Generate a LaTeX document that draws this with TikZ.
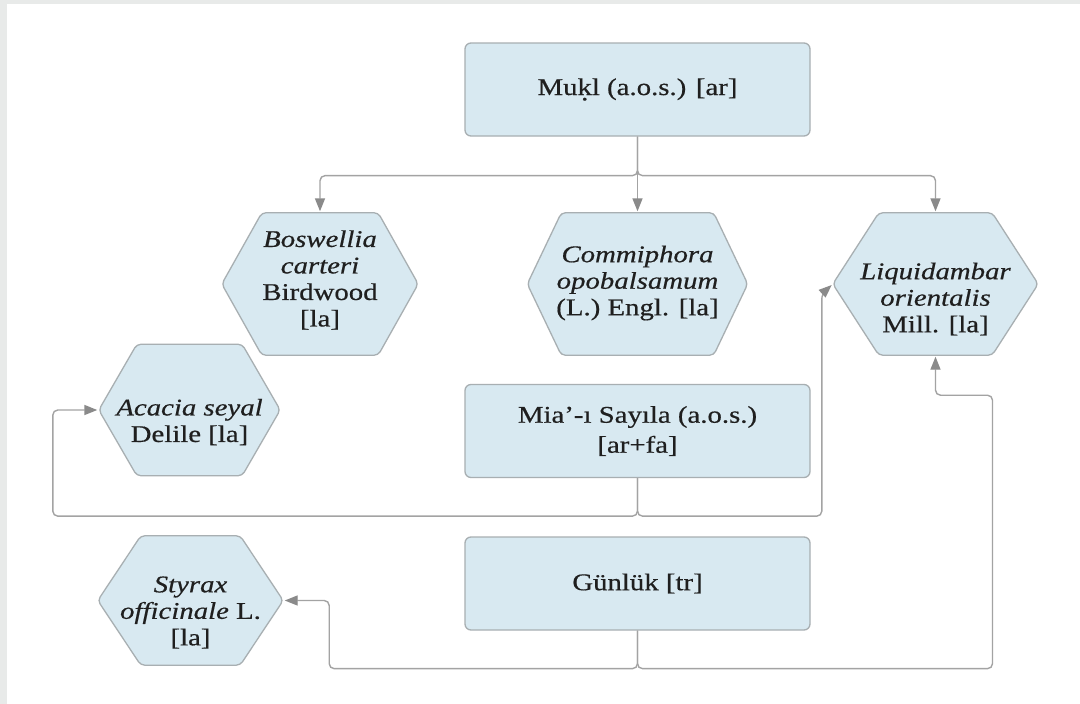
\documentclass[tikz,border=0pt]{standalone}
\usepackage{fontspec}
\setmainfont{Liberation Serif}[FakeStretch=1.2, FakeBold=0.5]
\usetikzlibrary{arrows.meta}

\definecolor{framegray}{HTML}{E8EAE9}
\definecolor{boxfill}{HTML}{D8E9F1}
\definecolor{boxline}{HTML}{A8AFB2}
\definecolor{wire}{HTML}{A3A3A3}
\definecolor{tipgray}{HTML}{8A8A8A}
\definecolor{ink}{HTML}{1F1F1F}

\pgfdeclarelayer{bg}
\pgfsetlayers{bg,main}

% k with a dot below (transliteration)
\newcommand{\kdotbelow}{\ooalign{k\cr\hidewidth\raisebox{-0.22em}{.}\hidewidth\cr}}

\begin{document}
\begin{tikzpicture}[x=1pt,y=-1pt,
  text=ink,
  rbox/.style={draw=boxline, fill=boxfill, line width=1.3pt, rounded corners=6pt,
    minimum width=345pt, minimum height=93pt, inner sep=0pt, align=center,
    font=\fontsize{24}{30}\selectfont},
  hexcell/.style={inner sep=0pt},
  hexlabel/.style={align=center, inner sep=0pt, text=ink,
    font=\fontsize{24}{26.5}\selectfont},
  hexshape/.style={draw=boxline, fill=boxfill, line width=1.3pt, rounded corners=4pt},
  wire/.style={draw=wire, line width=1.4pt, rounded corners=5pt},
  arr/.style={wire, shorten >=1.5pt, -{Triangle[length=13pt,width=10pt,color=tipgray]}}
]
\useasboundingbox (0,0) rectangle (1080,704);

% rectangular boxes
\node[rbox] (mukl) at (637.5,89.5) {Mu\kdotbelow l (a.o.s.) [ar]};
\node[rbox] (mia)  at (637.5,431)  {Mia’-ı Sayıla (a.o.s.)\\{}[ar+fa]};
\node[rbox] (gun)  at (637.5,583.5) {Günlük [tr]};

% hexagonal cells (outlines drawn on the background layer)
\node[hexcell, minimum width=196pt, minimum height=142pt,
  label={[hexlabel, yshift=4pt]center:{\textit{Boswellia}\\\textit{carteri}\\Birdwood\\{}[la]}}]
  (bos) at (320,284) {};
\node[hexcell, minimum width=220pt, minimum height=142pt,
  label={[hexlabel, yshift=1pt]center:{\textit{Commiphora}\\\textit{opobalsamum}\\(L.) Engl. [la]}}]
  (com) at (637.5,284) {};
\node[hexcell, minimum width=205pt, minimum height=142pt,
  label={[hexlabel, yshift=-15pt]center:{\textit{Liquidambar}\\\textit{orientalis}\\Mill. [la]}}]
  (liq) at (935.5,284) {};
\node[hexcell, minimum width=181pt, minimum height=131pt,
  label={[hexlabel, yshift=-12pt]center:{\textit{Acacia seyal}\\Delile [la]}}]
  (aca) at (189.5,410) {};
\node[hexcell, minimum width=185pt, minimum height=129pt,
  label={[hexlabel, yshift=-12pt]center:{\textit{Styrax}\\\textit{officinale} L.\\{}[la]}}]
  (sty) at (190.5,600.5) {};

\begin{pgfonlayer}{bg}
  % page frame
  \fill[framegray] (0,0) rectangle (1080,704);
  \fill[white] (7,4) rectangle (1080,704);
  \foreach \n/\i in {bos/40, com/34, liq/46, aca/38, sty/43} {
    \filldraw[hexshape] (\n.west) -- ([xshift=\i pt]\n.north west)
      -- ([xshift=-\i pt]\n.north east) -- (\n.east)
      -- ([xshift=-\i pt]\n.south east) -- ([xshift=\i pt]\n.south west) -- cycle;
  }
\end{pgfonlayer}

% connectors
\draw[arr] (mukl.south) -- ++(0,39) -| (bos.north);
\draw[arr] (mukl.south) -- (com.north);
\draw[arr] (mukl.south) -- ++(0,39) -| (liq.north);
\draw[arr] (mia.south) -- ++(0,38) -| ([xshift=-46pt]aca.west) -- (aca.west);
\draw[arr] (mia.south) -- ++(0,38) -| ([xshift=-11pt,yshift=-10pt]liq.west) -- (liq.west);
\draw[arr] (gun.south) -- ++(0,38) -| ([xshift=46pt]sty.east) -- (sty.east);
\draw[arr] (gun.south) -- ++(0,38) -| ([xshift=57pt,yshift=-40pt]liq.south) -| (liq.south);
\end{tikzpicture}
\end{document}
